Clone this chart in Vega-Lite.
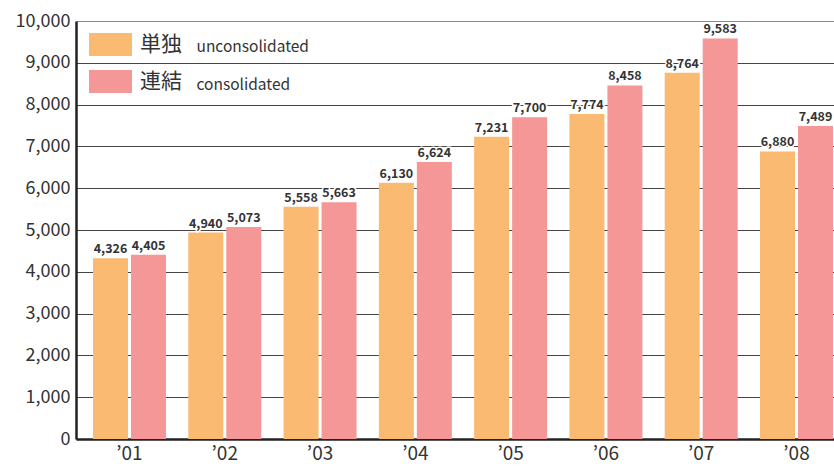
{
  "$schema": "https://vega.github.io/schema/vega-lite/v6.json",
  "width": 758,
  "height": 418,
  "autosize": "none",
  "padding": {"left": 76, "top": 21, "right": 0, "bottom": 27},
  "background": "white",
  "config": {"view": {"stroke": null}, "font": "Noto Sans CJK JP"},
  "data": {
    "values": [
      {"year": "’01", "series": "単独", "en": "unconsolidated", "value": 4326},
      {"year": "’01", "series": "連結", "en": "consolidated", "value": 4405},
      {"year": "’02", "series": "単独", "en": "unconsolidated", "value": 4940},
      {"year": "’02", "series": "連結", "en": "consolidated", "value": 5073},
      {"year": "’03", "series": "単独", "en": "unconsolidated", "value": 5558},
      {"year": "’03", "series": "連結", "en": "consolidated", "value": 5663},
      {"year": "’04", "series": "単独", "en": "unconsolidated", "value": 6130},
      {"year": "’04", "series": "連結", "en": "consolidated", "value": 6624},
      {"year": "’05", "series": "単独", "en": "unconsolidated", "value": 7231},
      {"year": "’05", "series": "連結", "en": "consolidated", "value": 7700},
      {"year": "’06", "series": "単独", "en": "unconsolidated", "value": 7774},
      {"year": "’06", "series": "連結", "en": "consolidated", "value": 8458},
      {"year": "’07", "series": "単独", "en": "unconsolidated", "value": 8764},
      {"year": "’07", "series": "連結", "en": "consolidated", "value": 9583},
      {"year": "’08", "series": "単独", "en": "unconsolidated", "value": 6880},
      {"year": "’08", "series": "連結", "en": "consolidated", "value": 7489}
    ]
  },
  "encoding": {
    "x": {
      "field": "year",
      "type": "nominal",
      "sort": null,
      "scale": {"paddingInner": 0.234, "paddingOuter": 0.0944, "align": 0.944},
      "axis": {
        "title": null,
        "labelAngle": 0,
        "labelFontSize": 19,
        "labelColor": "#333333",
        "labelPadding": 5,
        "ticks": false,
        "grid": false,
        "domainColor": "#222222",
        "domainWidth": 2.5
      }
    },
    "xOffset": {
      "field": "series",
      "type": "nominal",
      "sort": ["単独", "連結"],
      "scale": {"paddingInner": 0.079, "paddingOuter": 0}
    },
    "y": {
      "field": "value",
      "type": "quantitative",
      "scale": {"domain": [0, 10000], "nice": false},
      "axis": {
        "title": null,
        "values": [0, 1000, 2000, 3000, 4000, 5000, 6000, 7000, 8000, 9000, 10000],
        "format": ",d",
        "labelFontSize": 18,
        "labelColor": "#333333",
        "labelPadding": 6,
        "ticks": false,
        "domainColor": "#222222",
        "domainWidth": 2.5,
        "grid": true,
        "gridColor": {"condition": {"test": "datum.value == 10000", "value": "#8a8a8a"}, "value": "#444444"},
        "gridWidth": 1,
        "gridOpacity": 1
      }
    }
  },
  "layer": [
    {
      "mark": {"type": "bar"},
      "encoding": {
        "color": {
          "field": "series",
          "type": "nominal",
          "scale": {"domain": ["単独", "連結"], "range": ["#FABA72", "#F59797"]},
          "legend": {
            "orient": "none",
            "legendX": 13,
            "legendY": 2,
            "direction": "vertical",
            "title": null,
            "symbolType": "M-1,-0.535H1V0.535H-1Z",
            "symbolSize": 1849,
            "symbolStrokeWidth": 0,
            "labelFontSize": 21,
            "labelColor": "#333333",
            "labelOffset": 8,
            "rowPadding": 3
          }
        }
      }
    },
    {
      "mark": {"type": "point", "opacity": 0, "size": 100},
      "encoding": {
        "shape": {
          "field": "en",
          "type": "nominal",
          "sort": ["unconsolidated", "consolidated"],
          "legend": {
            "orient": "none",
            "legendX": 105,
            "legendY": 18,
            "direction": "vertical",
            "title": null,
            "symbolSize": 100,
            "symbolOpacity": 0,
            "symbolStrokeWidth": 0,
            "labelFontSize": 15.5,
            "labelColor": "#333333",
            "labelOffset": 0,
            "rowPadding": 21
          }
        }
      }
    },
    {
      "mark": {"type": "text", "baseline": "bottom", "dy": -2, "fontSize": 12.5, "fontWeight": "bold", "stroke": "white", "strokeWidth": 3, "fill": "white"},
      "encoding": {"text": {"field": "value", "type": "quantitative", "format": ","}}
    },
    {
      "mark": {"type": "text", "baseline": "bottom", "dy": -2, "fontSize": 12.5, "fontWeight": "bold", "fill": "#333333"},
      "encoding": {"text": {"field": "value", "type": "quantitative", "format": ","}}
    }
  ]
}
